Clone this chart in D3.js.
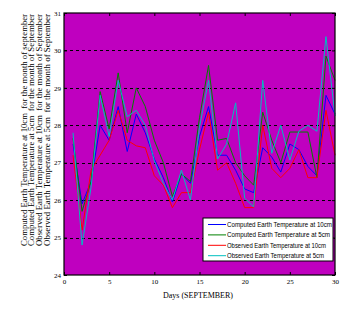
<!DOCTYPE html>
<html>
<head>
<meta charset="utf-8">
<script src="https://cdn.jsdelivr.net/npm/d3@7"></script>
<style>
  body { margin: 0; background: #fff; }
  svg { display: block; }
  .tick-label { font-family: "Liberation Serif", serif; font-size: 7px; fill: #000; }
  .title { font-family: "Liberation Serif", serif; fill: #000; white-space: pre; }
  .legend-text { font-family: "Liberation Sans", sans-serif; font-size: 7px; fill: #000; }
</style>
</head>
<body>
<svg id="chart"></svg>
<script>
// Data (days of September)
const days = d3.range(1, 31);
const computed10 = [27.5, 25.9, 26.5, 28.0, 27.6, 28.5, 27.3, 28.3, 27.8, 27.1,
                    26.6, 25.95, 26.7, 26.45, 27.7, 28.5, 27.2, 27.2, 26.8, 26.3,
                    26.2, 27.4, 27.15, 26.75, 27.5, 27.35, 26.9, 26.65, 28.8, 28.3];
const computed5 = [27.65, 25.7, 26.5, 28.9, 27.9, 29.4, 27.8, 29.0, 28.5, 27.6,
                   27.0, 26.1, 26.7, 26.5, 28.2, 29.6, 27.6, 27.65, 27.0, 26.65,
                   26.4, 28.35, 27.6, 27.0, 27.82, 27.82, 27.82, 26.6, 29.85, 29.2];
const observed10 = [27.2, 25.2, 26.8, 27.2, 27.6, 28.4, 27.6, 27.45, 27.4, 26.65,
                    26.4, 25.8, 26.2, 26.2, 27.35, 28.35, 26.8, 27.0, 26.45, 25.8,
                    25.8, 28.0, 26.85, 26.6, 26.85, 27.35, 26.6, 26.6, 28.4, 27.2];
const observed5 = [27.8, 24.8, 26.35, 28.8, 27.7, 29.2, 28.23, 28.4, 28.0, 27.05,
                   26.45, 26.0, 26.8, 26.0, 27.95, 29.2, 27.1, 27.5, 28.6, 26.05,
                   25.82, 29.2, 27.25, 28.0, 27.07, 27.84, 28.0, 27.84, 30.37, 28.25];

const seriesNames = [
    "Computed  Earth Temperature at 10cm",
    "Computed  Earth Temperature at 5cm",
    "Observed  Earth Temperature at 10cm",
    "Observed  Earth Temperature at 5cm"
];
const seriesColors = ["#0000ff", "#008000", "#ff0000", "#00bfbf"];
const seriesValues = [computed10, computed5, observed10, observed5];

const xTicks = [0, 5, 10, 15, 20, 25, 30];
const yTicks = [24, 25, 26, 27, 28, 29, 30, 31];
const gridValues = [25, 26, 27, 28, 29, 30];

const yTitleLines = [
    "Computed Earth Temperature at 10cm  for the month of september",
    "Computed Earth Temperature at 5cm  for the month of September",
    "Observed Earth Temperature at 10cm  for the month of September",
    "Observed Earth Temperature at 5cm  for the month of September"
];
const xTitle = "Days (SEPTEMBER)";

// Size
const width = 359;
const height = 310;
const margin = { top: 13, right: 24, bottom: 35, left: 64 };

const svg = d3.select("#chart")
    .attr("width", width)
    .attr("height", height);

const x = d3.scaleLinear()
    .domain([0, 30])
    .range([margin.left, width - margin.right]);

const y = d3.scaleLinear()
    .domain([24, 31])
    .range([height - margin.bottom, margin.top]);

// Plot background
svg.append("rect")
    .attr("x", x(0))
    .attr("y", y(31))
    .attr("width", x(30) - x(0))
    .attr("height", y(24) - y(31))
    .attr("fill", "#bf00bf");

// Dashed grid
svg.append("g")
    .selectAll("line")
    .data(gridValues)
    .enter()
    .append("line")
    .attr("x1", x(0))
    .attr("x2", x(30))
    .attr("y1", d => Math.round(y(d)) + 0.5)
    .attr("y2", d => Math.round(y(d)) + 0.5)
    .attr("stroke", "#000")
    .attr("stroke-width", 1)
    .attr("stroke-dasharray", "3,3");

// Lines
const line = d3.line()
    .x((d, i) => x(days[i]))
    .y(d => y(d));

seriesValues.forEach((vals, i) => {
    svg.append("path")
        .datum(vals)
        .attr("fill", "none")
        .attr("stroke", seriesColors[i])
        .attr("stroke-width", 1)
        .attr("d", line);
});

// Axes (ticks pointing inward)
const xAxisBottom = svg.append("g")
    .attr("transform", `translate(0,${y(24)})`)
    .call(d3.axisBottom(x).tickValues(xTicks).tickSize(-3).tickPadding(4).tickFormat(d3.format("d")));
const xAxisTop = svg.append("g")
    .attr("transform", `translate(0,${y(31)})`)
    .call(d3.axisTop(x).tickValues(xTicks).tickSize(-3).tickFormat(""));
const yAxisLeft = svg.append("g")
    .attr("transform", `translate(${x(0)},0)`)
    .call(d3.axisLeft(y).tickValues(yTicks).tickSize(-3).tickPadding(3).tickFormat(d3.format("d")));
const yAxisRight = svg.append("g")
    .attr("transform", `translate(${x(30)},0)`)
    .call(d3.axisRight(y).tickValues(yTicks).tickSize(-3).tickFormat(""));

[xAxisBottom, xAxisTop, yAxisLeft, yAxisRight].forEach(g => {
    g.select(".domain").remove();
    g.selectAll("text").attr("class", "tick-label").attr("font-size", null).attr("font-family", null);
});

// Frame
svg.append("rect")
    .attr("x", x(0))
    .attr("y", y(31))
    .attr("width", x(30) - x(0))
    .attr("height", y(24) - y(31))
    .attr("fill", "none")
    .attr("stroke", "#000")
    .attr("stroke-width", 1.2);

// Axis titles
svg.append("text")
    .attr("class", "title")
    .attr("x", 198)
    .attr("y", 298)
    .attr("text-anchor", "middle")
    .attr("font-size", "9px")
    .attr("textLength", 70)
    .attr("lengthAdjust", "spacingAndGlyphs")
    .text(xTitle);

yTitleLines.forEach((t, i) => {
    svg.append("text")
        .attr("class", "title")
        .attr("transform", `translate(${26.5 + i * 7.8},130) rotate(-90)`)
        .attr("text-anchor", "middle")
        .attr("font-size", "8px")
        .attr("textLength", 232)
        .attr("lengthAdjust", "spacingAndGlyphs")
        .text(t);
});

// Legend
const legend = svg.append("g")
    .attr("transform", "translate(203,218)");

legend.append("rect")
    .attr("width", 130)
    .attr("height", 43)
    .attr("fill", "#fff")
    .attr("stroke", "#000")
    .attr("stroke-width", 1);

const legendLen = [105, 103, 99, 97];
seriesNames.forEach((name, i) => {
    const ly = 6.5 + i * 10.4;
    legend.append("line")
        .attr("x1", 5).attr("x2", 23)
        .attr("y1", ly).attr("y2", ly)
        .attr("stroke", seriesColors[i])
        .attr("stroke-width", 1);
    legend.append("text")
        .attr("class", "legend-text")
        .attr("x", 24)
        .attr("y", ly + 2.5)
        .attr("textLength", legendLen[i])
        .attr("lengthAdjust", "spacingAndGlyphs")
        .text(name);
});
</script>
</body>
</html>
